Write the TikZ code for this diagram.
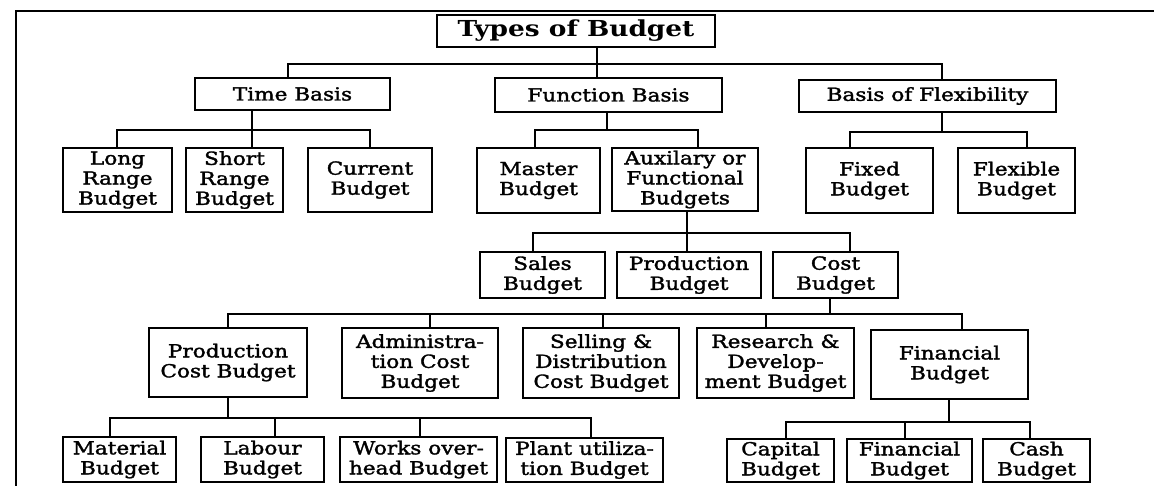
\documentclass[tikz,border=0pt]{standalone}
\usepackage{fontspec}
\setmainfont{DejaVu Serif}[FakeStretch=1.2,FakeBold=1.8]
\newfontfamily\titlefont{DejaVu Serif}[FakeStretch=1.2]
\newcommand{\bx}[7][]{%
  \pgfmathsetmacro{\bxcx}{(#3+#5)/2}%
  \pgfmathsetmacro{\bxcy}{(#4+#6)/2}%
  \pgfmathsetmacro{\bxw}{(#5-#3)*0.5}%
  \pgfmathsetmacro{\bxh}{(#6-#4)*0.5}%
  \node[box,#1,minimum width=\bxw pt,minimum height=\bxh pt] (#2) at (\bxcx,\bxcy) {#7};}
\begin{document}
\begin{tikzpicture}[x=0.5pt,y=-0.5pt,
  box/.style={draw=black,line width=1.2pt,inner sep=0pt,align=center,
    font=\fontsize{9pt}{10pt}\selectfont},
  conn/.style={draw=black,line width=1.4pt},
  frame/.style={draw=black,line width=1.3pt}]
\fill[white] (0,0) rectangle (1154,486);
\useasboundingbox (0,0) rectangle (1154,486);
\draw[frame] (16,486) -- (16,11) -- (1154,11);
% boxes
\bx[font=\titlefont\bfseries\fontsize{11pt}{12pt}\selectfont]{title}{437}{15}{715}{47}{Types of Budget}
\bx{tb}{195}{78}{390}{110}{Time Basis}
\bx{fb}{495}{78}{722}{112}{Function Basis}
\bx{bf}{799}{80}{1056}{112}{Basis of Flexibility}
\bx{lr}{63}{148}{172}{212}{Long\\Range\\Budget}
\bx{sr}{186}{148}{283}{212}{Short\\Range\\Budget}
\bx{cur}{308}{148}{432}{212}{Current\\Budget}
\bx{ma}{477}{148}{600}{213}{Master\\Budget}
\bx{aux}{612}{148}{758}{211}{Auxilary or\\Functional\\Budgets}
\bx{fx}{806}{148}{933}{213}{Fixed\\Budget}
\bx{fl}{958}{148}{1075}{213}{Flexible\\Budget}
\bx{sb}{480}{252}{605}{298}{Sales\\Budget}
\bx{pb}{617}{252}{761}{298}{Production\\Budget}
\bx{cb}{773}{252}{898}{298}{Cost\\Budget}
\bx{pc}{149}{328}{307}{397}{Production\\Cost Budget}
\bx{ad}{342}{328}{498}{398}{Administra-\\tion Cost\\Budget}
\bx{sd}{523}{328}{679}{398}{Selling \&\\Distribution\\Cost Budget}
\bx{rd}{697}{328}{854}{398}{Research \&\\Develop-\\ment Budget}
\bx{fin}{871}{330}{1028}{399}{Financial\\Budget}
\bx{mat}{63}{437}{176}{482}{Material\\Budget}
\bx{lab}{201}{437}{324}{482}{Labour\\Budget}
\bx{wk}{340}{437}{497}{482}{Works over-\\head Budget}
\bx{pl}{506}{438}{663}{482}{Plant utiliza-\\tion Budget}
\bx{cap}{727}{439}{834}{482}{Capital\\Budget}
\bx{fin2}{847}{439}{972}{482}{Financial\\Budget}
\bx{cash}{983}{439}{1090}{482}{Cash\\Budget}
% connectors
\draw[conn] (title.south -| 597,0) -- (fb.north -| 597,0);
\draw[conn] (tb.north -| 288,0) |- (942,64) -- (bf.north -| 942,0);
\draw[conn] (tb.south -| 252,0) -- (sr.north -| 252,0);
\draw[conn] (lr.north -| 117,0) |- (370,130) -- (cur.north -| 370,0);
\draw[conn] (fb.south -| 607,0) -- (607,130);
\draw[conn] (ma.north -| 535,0) |- (698,130) -- (aux.north -| 698,0);
\draw[conn] (bf.south -| 942,0) -- (942,132);
\draw[conn] (fx.north -| 850,0) |- (1027,132) -- (fl.north -| 1027,0);
\draw[conn] (aux.south -| 687,0) -- (pb.north -| 687,0);
\draw[conn] (sb.north -| 533,0) |- (850,233) -- (cb.north -| 850,0);
\draw[conn] (cb.south -| 830,0) -- (830,314);
\draw[conn] (pc.north -| 228,0) |- (962,314) -- (fin.north -| 962,0);
\draw[conn] (ad.north -| 430,0) -- (430,314);
\draw[conn] (sd.north -| 603,0) -- (603,314);
\draw[conn] (rd.north -| 766,0) -- (766,314);
\draw[conn] (pc.south -| 228,0) -- (228,418);
\draw[conn] (mat.north -| 110,0) |- (591,418) -- (pl.north -| 591,0);
\draw[conn] (lab.north -| 275,0) -- (275,418);
\draw[conn] (wk.north -| 420,0) -- (420,418);
\draw[conn] (fin.south -| 949,0) -- (949,422);
\draw[conn] (cap.north -| 786,0) |- (1030,422) -- (cash.north -| 1030,0);
\draw[conn] (fin2.north -| 905,0) -- (905,422);
\end{tikzpicture}
\end{document}
